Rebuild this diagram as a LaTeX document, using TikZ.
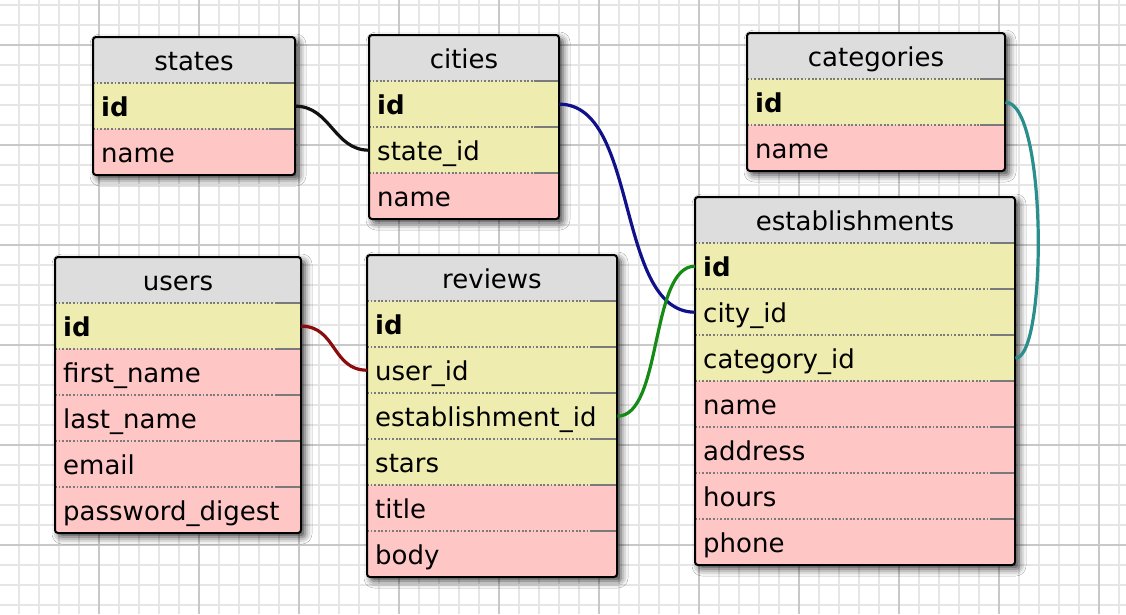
\documentclass[tikz,border=0pt]{standalone}
\usepackage{fontspec}
\setmainfont{DejaVu Sans}
\usetikzlibrary{shadows.blur}
\definecolor{hdr}{HTML}{DDDDDD}
\definecolor{keyc}{HTML}{EEECAE}
\definecolor{attrc}{HTML}{FFC6C6}
\definecolor{gridminor}{HTML}{E6E6E6}
\definecolor{gridmajor}{HTML}{C8C8C8}
\definecolor{sepc}{HTML}{7A7A7A}
\definecolor{cblack}{HTML}{111111}
\definecolor{cblue}{HTML}{10108A}
\definecolor{cred}{HTML}{8A0C0C}
\definecolor{cgreen}{HTML}{158A15}
\definecolor{cteal}{HTML}{2A8F8C}
\newcommand\tabfont{\fontsize{26}{30}\selectfont}
\tikzset{
  minorline/.style={draw=gridminor, line width=1.5pt},
  majorline/.style={draw=gridmajor, line width=1.5pt},
  tableshape/.style={fill=hdr, blur shadow={shadow xshift=4pt, shadow yshift=-4pt, shadow blur radius=7pt, shadow opacity=75}},
  tableborder/.style={draw=black, line width=2pt, rounded corners=3pt},
  rowbox/.style={inner xsep=8pt, inner ysep=0pt, minimum height=46pt, align=left, text height=20pt, text depth=0pt, font=\tabfont},
  titlebox/.style={inner sep=0pt, font=\tabfont},
  sepdot/.style={draw=sepc, line width=1.8pt, dash pattern=on 1.8pt off 1.8pt},
  sepsolid/.style={draw=sepc, line width=1.8pt},
  conn/.style={line width=3.2pt}
}
\newcommand\ertable[7]{%
  \pgfmathsetmacro\boxbot{#3+46*(#5+1)}%
  \pgfmathsetmacro\tw{#4-16}%
  \path[tableshape, rounded corners=3pt] (#2,#3) rectangle (#2+#4,\boxbot);
  \node[titlebox, anchor=base] (#1-title) at (#2+#4/2, #3+33) {#6};
  \begin{scope}
    \clip[rounded corners=3pt] (#2,#3) rectangle (#2+#4,\boxbot);
    \foreach \c/\t/\f [count=\i] in {#7} {
      \node[rowbox, fill=\c, text width=\tw pt, anchor=north west] (#1-\i) at (#2,#3+46*\i) {\csname text\f\endcsname{\t}};
      \draw[sepdot] (#2,#3+46*\i) -- (#2+#4-25,#3+46*\i);
      \draw[sepsolid] (#2+#4-25,#3+46*\i) -- (#2+#4,#3+46*\i);
    }
  \end{scope}
  \draw[tableborder] (#2,#3) rectangle (#2+#4,\boxbot);
}
\begin{document}
\begin{tikzpicture}[x=1pt, y=-1pt]
\useasboundingbox (0,0) rectangle (1126,614);
\fill[white] (0,0) rectangle (1126,614);
% grid
\foreach \x in {19,39,...,1119} \draw[minorline] (\x,0) -- (\x,614);
\foreach \y in {5,25,...,605} \draw[minorline] (0,\y) -- (1126,\y);
\foreach \x in {99,199,...,1099} \draw[majorline] (\x,0) -- (\x,614);
\foreach \y in {45,145,...,545} \draw[majorline] (0,\y) -- (1126,\y);
% tables
\ertable{states}{93}{37}{202}{2}{states}{keyc/id/bf, attrc/name/rm}
\ertable{cities}{369}{35}{190}{3}{cities}{keyc/id/bf, keyc/state\_id/rm, attrc/name/rm}
\ertable{categories}{747}{33}{258}{2}{categories}{keyc/id/bf, attrc/name/rm}
\ertable{est}{695}{197}{320}{7}{establishments}{keyc/id/bf, keyc/city\_id/rm, keyc/category\_id/rm, attrc/name/rm, attrc/address/rm, attrc/hours/rm, attrc/phone/rm}
\ertable{users}{55}{257}{246}{5}{users}{keyc/id/bf, attrc/first\_name/rm, attrc/last\_name/rm, attrc/email/rm, attrc/password\_digest/rm}
\ertable{reviews}{367}{255}{250}{6}{reviews}{keyc/id/bf, keyc/user\_id/rm, keyc/establishment\_id/rm, keyc/stars/rm, attrc/title/rm, attrc/body/rm}
% connectors
\draw[conn, cblack] (states-1.east) .. controls +(35,0) and +(-35,0) .. (cities-2.west);
\draw[conn, cblue] (cities-1.east) .. controls +(80,0) and +(-80,0) .. (est-2.west);
\draw[conn, cred] (users-1.east) .. controls +(35,0) and +(-35,0) .. (reviews-2.west);
\draw[conn, cgreen] (reviews-3.east) .. controls +(45,0) and +(-45,0) .. (est-1.west);
\draw[conn, cteal] (categories-1.east) .. controls +(42,0) and +(32,0) .. (est-3.east);
\end{tikzpicture}
\end{document}
